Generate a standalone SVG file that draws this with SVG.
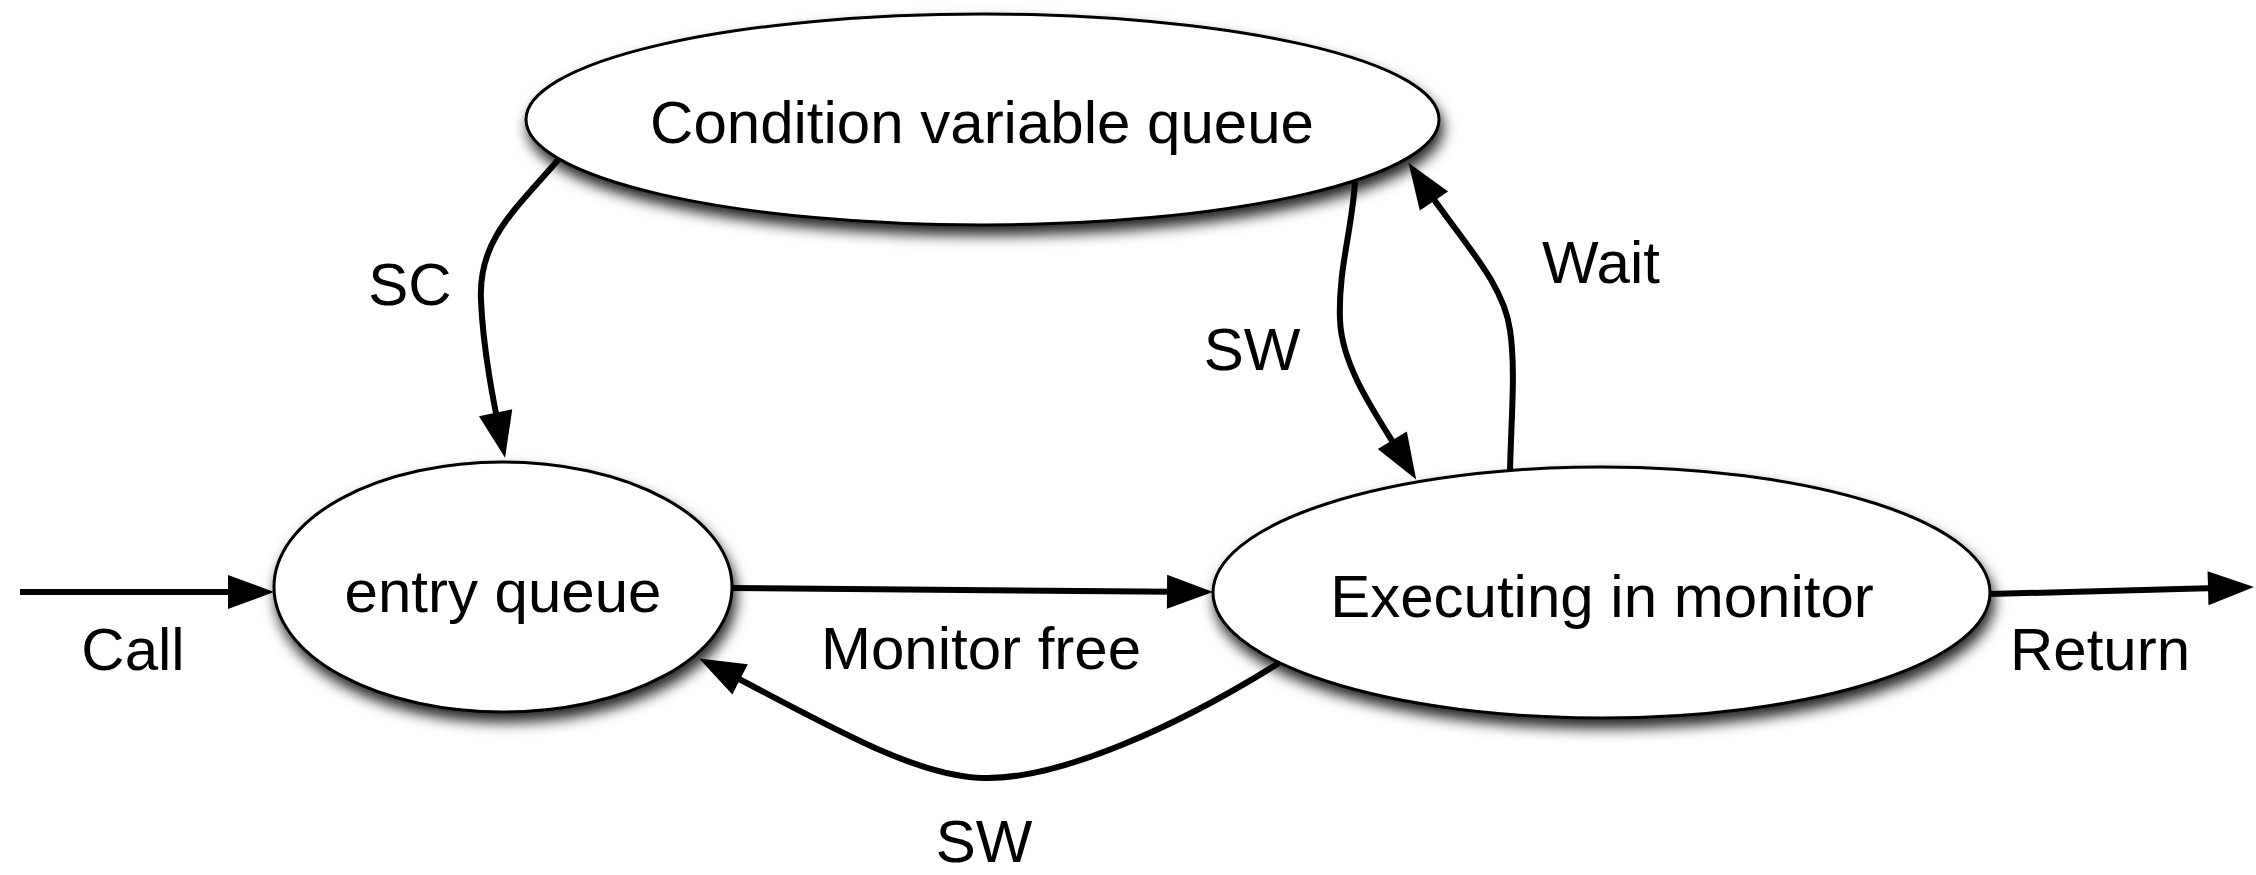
<svg xmlns="http://www.w3.org/2000/svg" width="2256" height="875" viewBox="0 0 2256 875">
<style>
.node ellipse{fill:#fff;stroke:#000;stroke-width:3;filter:url(#sh)}
text{font-family:"Liberation Sans",Arial,sans-serif;font-size:60px;fill:#000;text-anchor:middle}
.edge{fill:none;stroke:#000;stroke-width:6;marker-end:url(#ah)}
</style>
<defs>
<filter id="sh" x="-10%" y="-20%" width="120%" height="150%">
<feDropShadow dx="3" dy="9" stdDeviation="7" flood-color="#000" flood-opacity="0.85"/>
</filter>
<marker id="ah" markerUnits="userSpaceOnUse" markerWidth="50" markerHeight="36" refX="36" refY="17" orient="auto" overflow="visible">
<path d="M0,0 L46,17 L0,34 z" fill="#000"/>
</marker>
</defs>
<g id="connectors">
<path class="edge" d="M20,592 L264,592"/>
<path class="edge" d="M731,588 L1203,592"/>
<path class="edge" d="M1990,594 L2244,587.3"/>
<path class="edge" d="M558,160 C515,210 478,240 481,300 C483,350 494,405 503,448"/>
<path class="edge" d="M1355,182 C1352,230 1338,270 1340,320 C1342,370 1380,420 1411,471"/>
<path class="edge" d="M1510,472 C1511,420 1516,370 1510,330 C1503,280 1460,240 1414,171"/>
<path class="edge" d="M1279,663 C1180,725 1060,780 983,778 C910,776 820,720 708,663"/>
<text x="133" y="670">Call</text>
<text x="981" y="669">Monitor free</text>
<text x="2100" y="670">Return</text>
<text x="410" y="305">SC</text>
<text x="1252" y="370">SW</text>
<text x="1601" y="283">Wait</text>
<text x="984" y="862">SW</text>
</g>
<g id="condition-variable-queue" class="node">
<ellipse cx="982.5" cy="119.5" rx="456.5" ry="105.5"/>
<text x="982" y="143">Condition variable queue</text>
</g>
<g id="entry-queue" class="node">
<ellipse cx="503" cy="587" rx="229" ry="125"/>
<text x="503" y="612">entry queue</text>
</g>
<g id="executing-in-monitor" class="node">
<ellipse cx="1601.5" cy="592.5" rx="388.5" ry="125.5"/>
<text x="1602" y="617">Executing in monitor</text>
</g>
</svg>
